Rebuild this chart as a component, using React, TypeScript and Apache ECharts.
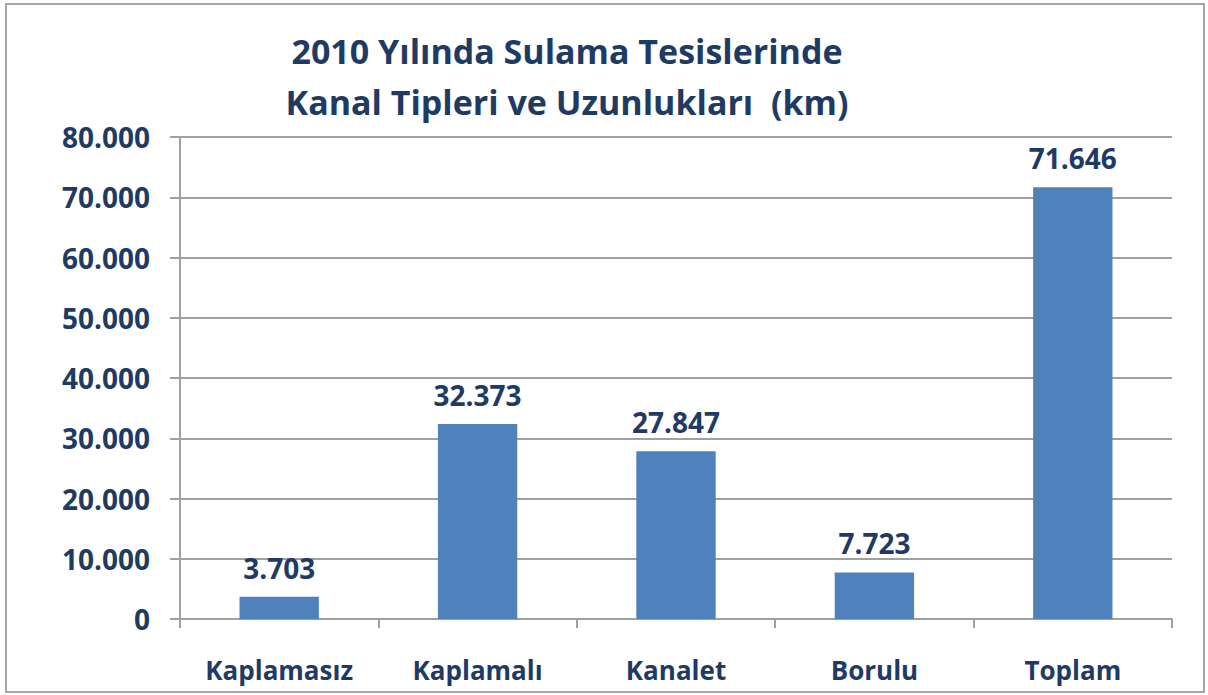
import React, { useEffect, useRef } from "react";
import * as echarts from "echarts";

const categories = ["Kaplamasız", "Kaplamalı", "Kanalet", "Borulu", "Toplam"];
const values = [3703, 32373, 27847, 7723, 71646];
const titleLines = ["2010 Yılında Sulama Tesislerinde", "Kanal Tipleri ve Uzunlukları  (km)"];

const TEXT = "#1F3A63";
const FONT = "'Open Sans', sans-serif";

function fmt(v: number): string {
  return String(Math.round(v)).replace(/\B(?=(\d{3})+(?!\d))/g, ".");
}

export default function App() {
  const ref = useRef<HTMLDivElement>(null);
  useEffect(() => {
    document.body.style.margin = "0";
    const chart = echarts.init(ref.current!, null, { renderer: "svg" });
    chart.setOption({
      animation: false,
      backgroundColor: "#ffffff",
      title: {
        text: titleLines.join("\n"),
        left: 562,
        top: 20,
        textAlign: "center",
        textStyle: {
          fontFamily: FONT,
          fontWeight: "bold",
          fontSize: 34,
          color: TEXT,
          lineHeight: 51,
        },
      },
      graphic: [
        {
          type: "rect",
          shape: { x: 6, y: 4, width: 1198, height: 688 },
          style: { fill: "none", stroke: "#A6A6A6", lineWidth: 2 },
          silent: true,
          z: 100,
        },
      ],
      grid: { left: 180, right: 36, top: 137, bottom: 76 },
      xAxis: {
        type: "category",
        data: categories,
        boundaryGap: true,
        axisLine: { show: true, lineStyle: { color: "#A0A0A0", width: 2 } },
        axisTick: { show: true, length: 9, lineStyle: { color: "#A0A0A0", width: 2 } },
        axisLabel: {
          margin: 38,
          fontFamily: FONT,
          fontWeight: "bold",
          fontSize: 26,
          color: TEXT,
        },
      },
      yAxis: {
        type: "value",
        min: 0,
        max: 80000,
        interval: 10000,
        axisLine: { show: true, lineStyle: { color: "#A0A0A0", width: 2 } },
        axisTick: { show: true, length: 10, lineStyle: { color: "#A0A0A0", width: 2 } },
        splitLine: { show: true, lineStyle: { color: "#A0A0A0", width: 2 } },
        axisLabel: {
          margin: 30,
          fontFamily: FONT,
          fontWeight: "bold",
          fontSize: 28,
          color: TEXT,
          formatter: (v: number) => fmt(v),
        },
      },
      series: [
        {
          type: "bar",
          data: values,
          barWidth: "40%",
          itemStyle: { color: "#4F81BD" },
          label: {
            show: true,
            position: "top",
            distance: 15,
            fontFamily: FONT,
            fontWeight: "bold",
            fontSize: 28,
            color: TEXT,
            formatter: (p: any) => fmt(p.value),
          },
        },
      ],
    });
    return () => chart.dispose();
  }, []);
  return <div ref={ref} style={{ width: 1208, height: 695 }} />;
}
